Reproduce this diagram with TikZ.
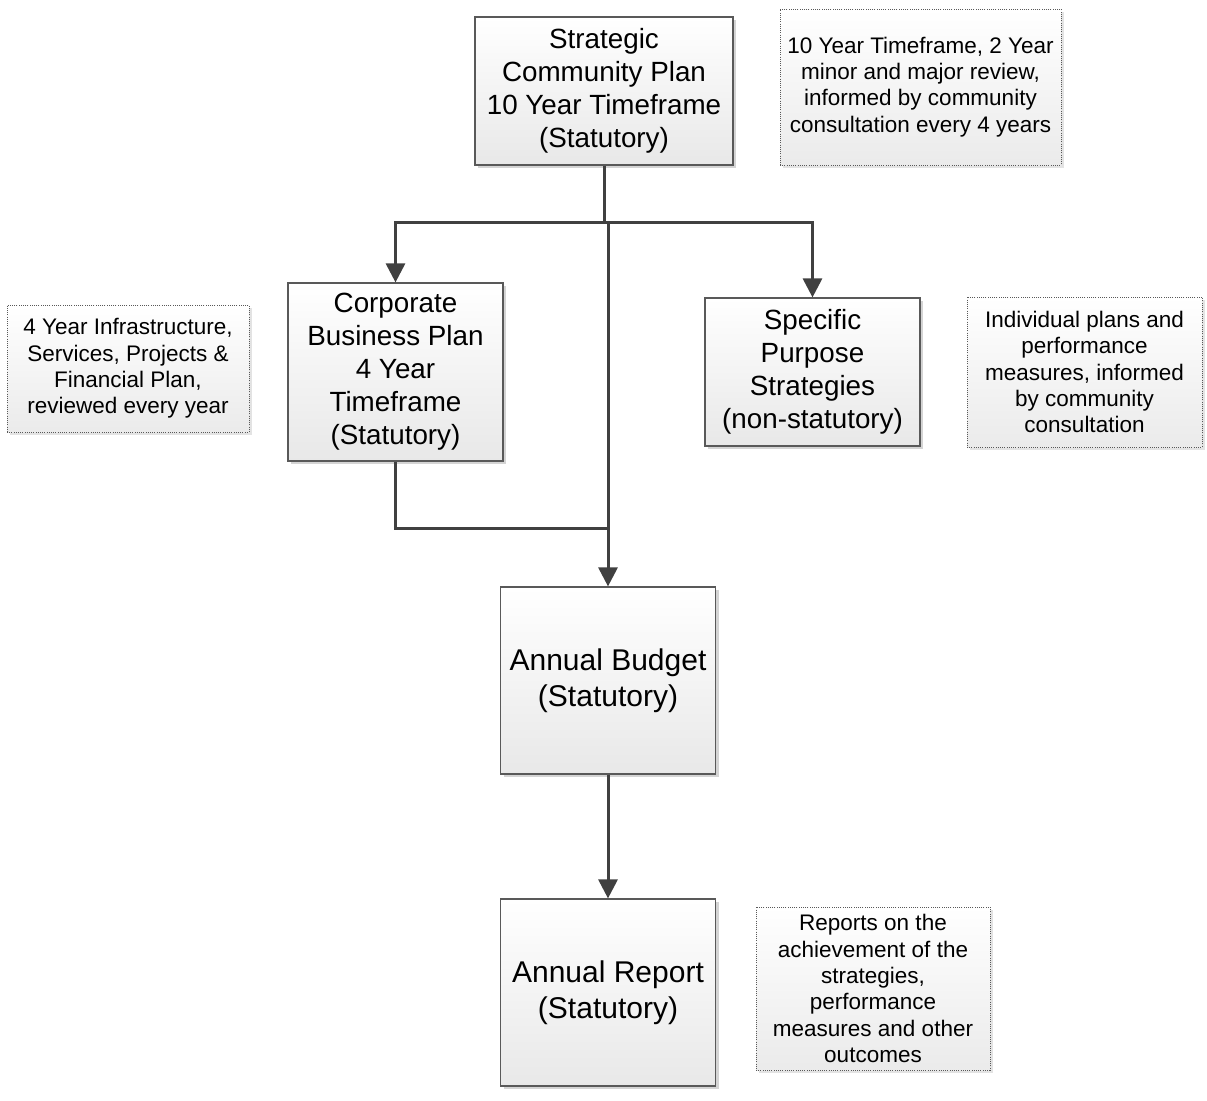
\documentclass[tikz,border=0pt]{standalone}
\usepackage{fontspec}
\setmainfont{Liberation Sans}
\usepackage{tikz}
\usetikzlibrary{arrows.meta,shadows}
\definecolor{ink}{HTML}{404040}
\definecolor{edge}{HTML}{595959}
\definecolor{shade}{HTML}{B8B8B8}
\tikzset{
  planbox/.style={draw=edge, line width=1.2pt, top color=white, bottom color=black!9,
    drop shadow={shadow xshift=3pt, shadow yshift=-3pt, fill=shade, opacity=0.6},
    inner sep=0pt, align=center, font=\fontsize{27.8}{33}\selectfont},
  bigbox/.style={planbox, font=\fontsize{30}{36}\selectfont},
  notebox/.style={draw=edge, line width=1pt, dash pattern=on 1pt off 1.2pt,
    top color=white, bottom color=black!8,
    drop shadow={shadow xshift=3pt, shadow yshift=-3pt, fill=shade, opacity=0.4},
    inner sep=0pt, align=center, font=\fontsize{22.5}{26.3}\selectfont},
  wire/.style={draw=ink, line width=3pt},
  tip/.style={wire, -{Triangle[length=19pt, width=19pt]}},
}

\begin{document}
\begin{tikzpicture}[x=1pt, y=-1pt]
  \useasboundingbox (0,0) rectangle (1207,1100);

  % main plans
  \node[planbox, minimum width=258pt, minimum height=148pt] (scp) at (604,91)
    {Strategic\\Community Plan\\10 Year Timeframe\\(Statutory)};
  \node[planbox, minimum width=215pt, minimum height=178pt] (cbp) at (395.5,372)
    {Corporate\\Business Plan\\4 Year\\Timeframe\\(Statutory)};
  \node[planbox, minimum width=215pt, minimum height=148pt] (sps) at (812.5,372)
    {Specific\\Purpose\\Strategies\\(non-statutory)};
  \node[bigbox, minimum width=215pt, minimum height=187pt] (bud) at (608,680.5)
    {Annual Budget\\(Statutory)};
  \node[bigbox, minimum width=215pt, minimum height=187pt] (rep) at (608,992.5)
    {Annual Report\\(Statutory)};

  % side notes
  \node[notebox, minimum width=281pt, minimum height=156pt] (n1) at (920.5,87)
    {10 Year Timeframe, 2 Year\\minor and major review,\\informed by community\\consultation every 4 years};
  \node[notebox, minimum width=242pt, minimum height=127pt] (n2) at (128,368.5)
    {4 Year Infrastructure,\\Services, Projects \&\\Financial Plan,\\reviewed every year};
  \node[notebox, minimum width=235pt, minimum height=150pt] (n3) at (1084.5,372)
    {Individual plans and\\performance\\measures, informed\\by community\\consultation};
  \node[notebox, minimum width=234pt, minimum height=163pt] (n4) at (873,988.5)
    {Reports on the\\achievement of the\\strategies,\\performance\\measures and other\\outcomes};

  % connectors
  \coordinate (hub) at (604,222);
  \coordinate (hubb) at (608,222);
  \coordinate (join) at (608,528);
  \draw[wire] (scp.south) -- (hub);
  \draw[tip] (hub) -| (cbp.north);
  \draw[tip] (hub) -| (sps.north);
  \draw[tip] (hubb) -- (bud.north);
  \draw[wire] (cbp.south) |- (join);
  \draw[tip] (bud.south) -- (rep.north);
\end{tikzpicture}
\end{document}
